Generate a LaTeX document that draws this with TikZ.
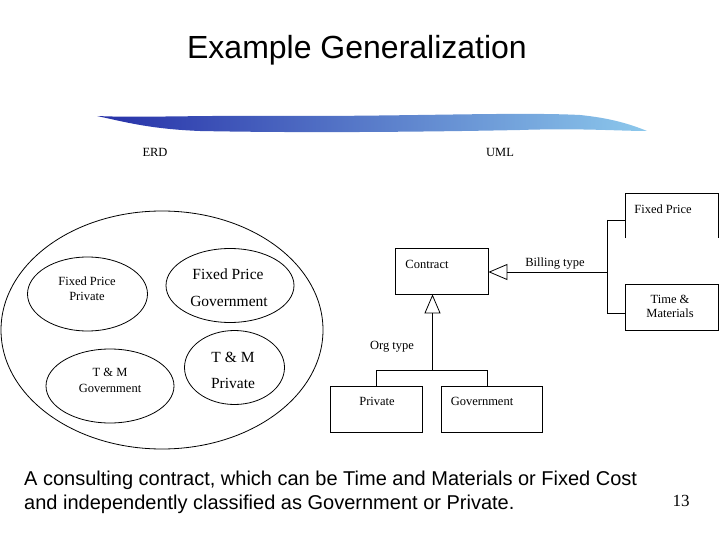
\documentclass[tikz,border=0pt]{standalone}
\usepackage{fontspec}
\setmainfont{Liberation Serif}
\newfontfamily\arialf{Liberation Sans}
\usetikzlibrary{arrows.meta}
\definecolor{brushdark}{RGB}{38,48,168}
\definecolor{brushlight}{RGB}{140,200,236}
\begin{document}
\begin{tikzpicture}[x=1pt,y=-1pt,
  ln/.style={draw=black,line width=0.8pt},
  ell/.style={draw=black,line width=0.8pt},
  box/.style={draw=black,line width=0.8pt},
  small/.style={font=\fontsize{12.5}{13}\selectfont,inner sep=0pt},
  big/.style={font=\fontsize{15.5}{16}\selectfont,inner sep=0pt},
  capt/.style={font=\arialf\fontsize{20}{24}\selectfont,anchor=base west,inner sep=0pt},
  gen/.style={-{Triangle[open,length=19pt,width=16pt]},line width=0.8pt}]
\useasboundingbox (0,0) rectangle (720,540);
% title
\node[font=\arialf\fontsize{32}{34}\selectfont,inner sep=0pt] (title) at (357,50) {Example Generalization};
% brush
\shade[left color=brushdark,right color=brushlight]
  (97,116) .. controls (140,118) and (200,115) .. (300,116)
  .. controls (420,116) and (520,112) .. (580,115)
  .. controls (610,118) and (630,124) .. (647,131)
  .. controls (620,131) and (580,128) .. (520,130)
  .. controls (420,132) and (300,133) .. (200,131)
  .. controls (150,129) and (125,122) .. (97,116) -- cycle;
\node[small] (erd) at (155,152) {ERD};
\node[small] (uml) at (500,152) {UML};
% ERD
\draw[ell] (162,330) ellipse [x radius=161, y radius=119];
\draw[ell] (87.5,294) ellipse [x radius=60, y radius=37];
\draw[ell] (230,285.5) ellipse [x radius=64, y radius=37];
\draw[ell] (110,386) ellipse [x radius=64, y radius=37];
\draw[ell] (234.5,367.5) ellipse [x radius=50, y radius=37];
\node[small] (fpp1) at (87,281) {Fixed Price};
\node[small] (fpp2) at (87,296) {Private};
\node[big] (fpg1) at (228,274) {Fixed Price};
\node[big] (fpg2) at (229,301) {Government};
\node[small] (tmg1) at (110,372) {T \& M};
\node[small] (tmg2) at (110,388) {Government};
\node[big] (tmp1) at (233,357) {T \& M};
\node[big] (tmp2) at (233,383) {Private};
% UML
\node[box,minimum width=93pt,minimum height=46pt,inner sep=0pt] (contract) at (441.5,271) {};
\node[small] (contractt) at (427,264) {Contract};
\node[box,minimum width=92pt,minimum height=46pt,inner sep=0pt] (priv) at (376,409) {};
\node[small] (privt) at (377,401) {Private};
\node[box,minimum width=101pt,minimum height=46pt,inner sep=0pt] (gov) at (491.5,409) {};
\node[small] (govt) at (482,401) {Government};
\node[box,minimum width=93pt,minimum height=46pt,inner sep=0pt] (tm) at (671.5,307) {};
\node[small,align=center] (tmt) at (670,306.5) {Time \&\\[1pt]Materials};
% fixed price open box
\coordinate (fpa) at (625,238);
\coordinate (fpb) at (718,238);
\draw[ln] (fpa) -- (625,193) -- (718,193) -- (fpb);
\node[small] (fpt) at (663,209) {Fixed Price};
% billing type generalization
\coordinate (bj) at (607,272);
\draw[ln] (607,220) -- (625,220);
\draw[ln] (607,220) -- (607,313) -- (tm.west |- 0,313);
\draw[gen] (bj) -- (contract.east |- bj);
\node[small] (billing) at (555,264) {Billing type};
% org type generalization
\coordinate (oj) at (432.5,370);
\draw[gen] (oj) -- (oj |- contract.south);
\draw[ln] (priv.north) -- (376,370) -- (487,370) -- (487,386);
\node[small] (org) at (392,347) {Org type};
% bottom text
\node[capt] (cap1) at (24,485) {A consulting contract, which can be Time and Materials or Fixed Cost};
\node[capt] (cap2) at (24,509) {and independently classified as Government or Private.};
\node[font=\fontsize{17}{18}\selectfont,inner sep=0pt] (pg) at (681,501) {13};
\end{tikzpicture}
\end{document}
